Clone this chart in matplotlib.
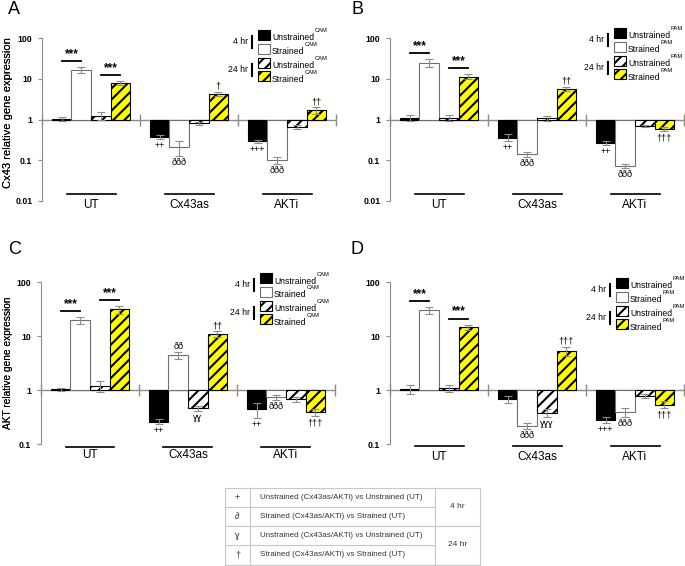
"""Cx43 / AKT relative gene expression under strain (four panels + key table)."""

import matplotlib
matplotlib.use("Agg")
import matplotlib.pyplot as plt
from matplotlib.patches import Rectangle
from matplotlib.transforms import offset_copy

plt.rcParams["font.family"] = ["Liberation Sans", "DejaVu Sans"]
plt.rcParams["hatch.linewidth"] = 1.5

W, H = 685, 566

groups = ["UT", "Cx43as", "AKTi"]
series = ["Unstrained", "Strained", "Unstrained", "Strained"]

# panel A: Cx43, CAM  (rows = groups, cols = series)
a_vals = [[1.02, 16.8, 1.25, 8.0], [0.38, 0.21, 0.80, 4.3], [0.29, 0.10, 0.66, 1.7]]
a_errs = [[0.10, 3.0, 0.30, 0.8], [0.04, 0.08, 0.08, 0.5], [0.03, 0.018, 0.07, 0.3]]
a_marks = [(1, 0, "++"), (1, 1, "ððð"), (1, 3, "†"), (2, 0, "+++"), (2, 1, "ððð"), (2, 3, "††")]

# panel B: Cx43, PAM
b_vals = [[1.1, 24.9, 1.1, 11.3], [0.36, 0.14, 1.07, 5.6], [0.27, 0.072, 0.69, 0.59]]
b_errs = [[0.2, 6.0, 0.2, 1.6], [0.07, 0.02, 0.15, 0.7], [0.03, 0.008, 0.04, 0.08]]
b_marks = [(1, 0, "++"), (1, 1, "ððð"), (1, 3, "††"), (2, 0, "++"), (2, 1, "ððð"), (2, 3, "†††")]

# panel C: AKT, CAM
c_vals = [[1.03, 19.7, 1.2, 31.0], [0.26, 4.4, 0.46, 10.8], [0.44, 0.74, 0.67, 0.39]]
c_errs = [[0.08, 2.7, 0.27, 5.0], [0.025, 0.7, 0.05, 1.4], [0.14, 0.08, 0.07, 0.06]]
c_marks = [(1, 0, "++"), (1, 1, "ðð"), (1, 2, "ɣɣ"), (1, 3, "††"),
           (2, 0, "++"), (2, 1, "ððð"), (2, 3, "†††")]

# panel D: AKT, PAM
d_vals = [[1.06, 30.0, 1.07, 14.6], [0.67, 0.22, 0.38, 5.3], [0.28, 0.386, 0.79, 0.535]]
d_errs = [[0.2, 4.8, 0.15, 1.7], [0.1, 0.03, 0.06, 1.0], [0.04, 0.07, 0.07, 0.08]]
d_marks = [(1, 1, "ððð"), (1, 2, "ɣɣɣ"), (1, 3, "†††"), (2, 0, "+++"), (2, 1, "ððð"), (2, 3, "†††")]

# key table
table_syms = ["+", "∂", "ɣ", "†"]
table_text = ["Unstrained (Cx43as/AKTi) vs Unstrained (UT)",
              "Strained (Cx43as/AKTi) vs Strained (UT)",
              "Unstrained (Cx43as/AKTi) vs Unstrained (UT)",
              "Strained (Cx43as/AKTi) vs Strained (UT)"]
table_times = ["4 hr", "24 hr"]

GRAY = "#8c8c8c"
BAR_STYLES = [
    dict(facecolor="black", edgecolor="black"),
    dict(facecolor="white", edgecolor="#707070"),
    dict(facecolor="white", edgecolor="black", hatch="///"),
    dict(facecolor="#ffff00", edgecolor="black", hatch="///"),
]
BW = 0.2

fig = plt.figure(figsize=(W / 100, H / 100), dpi=100)
ov = fig.add_axes([0, 0, 1, 1])
ov.set_xlim(0, W)
ov.set_ylim(H, 0)
ov.axis("off")
renderer = fig.canvas.get_renderer()


def add_panel(box, vals, errs, marks, ylab, ymin, ylab_size, ylab_y, line_y, lab_y):
    l, t, r, b = box
    ax = fig.add_axes([l / W, 1 - b / H, (r - l) / W, (b - t) / H])
    ax.set_yscale("log")
    ax.set_ylim(ymin, 100)
    ax.set_xlim(0, 3)
    for k in range(4):
        xs = [g + 0.2 + BW * k for g in range(3)]
        v = [vals[g][k] for g in range(3)]
        e = [errs[g][k] for g in range(3)]
        ax.bar(xs, [x - 1 for x in v], bottom=1, width=BW, linewidth=0.8,
               zorder=2, **BAR_STYLES[k])
        ax.errorbar(xs, v, yerr=e, fmt="none", ecolor=GRAY, elinewidth=0.8,
                    capsize=3, capthick=0.8, zorder=3)
    # baseline at 1 and group separators
    ax.axhline(1, color=GRAY, lw=1, zorder=1)
    ax.plot(range(4), [1] * 4, ls="none", marker="|", ms=9, mew=1,
            color=GRAY, clip_on=False, zorder=1)

    # significance marks
    for g, k, txt in marks:
        v, e = vals[g][k], errs[g][k]
        if v > 1:
            ax.annotate(txt, (g + 0.2 + BW * k, v + e), xytext=(0, 1),
                        textcoords="offset pixels", ha="center", va="bottom",
                        fontsize=6.5)
        else:
            ax.annotate(txt, (g + 0.2 + BW * k, v - e), xytext=(0, -2),
                        textcoords="offset pixels", ha="center", va="top",
                        fontsize=6.5)
    # UT brackets
    for k0 in (0, 2):
        top = max(vals[0][k0] + errs[0][k0], vals[0][k0 + 1] + errs[0][k0 + 1])
        x0, x1 = 0.2 + BW * k0, 0.2 + BW * (k0 + 1)
        ax.plot([x0, x1], [top, top], color="black", lw=1.3,
                transform=offset_copy(ax.transData, fig=fig, y=6, units="dots"))
        ax.annotate("***", ((x0 + x1) / 2, top), xytext=(0, 7),
                    textcoords="offset pixels", ha="center", va="bottom",
                    fontsize=8.5, fontweight="bold")

    # group underlines + labels
    tr = ax.get_xaxis_transform()
    for g, name in enumerate(groups):
        ax.plot([g + 0.25, g + 0.75], [line_y, line_y], color="black", lw=1.2,
                transform=tr, clip_on=False)
        ax.text(g + 0.5, lab_y, name, transform=tr, ha="center", va="center",
                fontsize=8.5)

    ax.set_xticks([])
    ticks = [10.0 ** p for p in range(-2, 3) if 10.0 ** p >= ymin - 1e-9]
    ax.set_yticks(ticks)
    ax.set_yticklabels([f"{tk:g}" for tk in ticks], fontsize=6.3, fontweight="bold")
    ax.minorticks_off()
    ax.tick_params(axis="y", length=3, width=0.8, color=GRAY, pad=4)
    for s in ("top", "right", "bottom"):
        ax.spines[s].set_visible(False)
    ax.spines["left"].set_color(GRAY)
    ax.set_ylabel(ylab, fontsize=ylab_size, va="center")
    ax.yaxis.set_label_coords(-(l - 8) / (r - l), ylab_y)
    ax.patch.set_alpha(0)
    return ax


def add_legend(bx, by, sup):
    step = 13.8
    for k in range(4):
        yc = by + step * k
        ov.add_patch(Rectangle((bx, yc - 5), 12, 10, linewidth=0.8, zorder=5,
                               **BAR_STYLES[k]))
        t = ov.text(bx + 14, yc + 3, series[k], fontsize=6.2, va="center", ha="left")
        x1 = t.get_window_extent(renderer).x1
        ov.text(x1 + 0.5, yc - 4, sup, fontsize=4.2, va="center", ha="left")
    for j, tm in enumerate(("4 hr", "24 hr")):
        yc = by + step * (2 * j) + step / 2
        ov.plot([bx - 6, bx - 6], [yc - 6, yc + 6], color="black", lw=1.5)
        ov.text(bx - 10, yc, tm, fontsize=6.2, ha="right", va="center")


add_panel((42, 38, 336, 201), a_vals, a_errs, a_marks,
          "Cx43 relative gene expression", 0.01, 8, 0.54, 0.043, -0.025)
add_panel((390, 38, 684, 201), b_vals, b_errs, b_marks,
          "Cx43 relative gene expression", 0.01, 8, 0.54, 0.043, -0.025)
add_panel((41, 282, 335, 444), c_vals, c_errs, c_marks,
          "AKT relative gene expression", 0.1, 7.3, 0.5, -0.018, -0.068)
add_panel((390, 282, 684, 444), d_vals, d_errs, d_marks,
          "AKT relative gene expression", 0.1, 7.3, 0.5, -0.012, -0.08)

add_legend(258, 35, "CAM")
add_legend(614, 33, "PAM")
add_legend(260, 278, "CAM")
add_legend(616, 283, "PAM")

for letter, x, y in (("A", 13.5, 9), ("B", 357.5, 9), ("C", 15, 250), ("D", 357.5, 250)):
    ov.text(x, y, letter, fontsize=13, ha="center", va="center")

# key table
tl, tc1, tc2, tr_ = 225, 250, 435, 480
rows = [488, 507, 526, 545, 565]
lc = dict(color="#c8c8c8", lw=0.8)
ov.plot([tl, tr_, tr_, tl, tl], [rows[0], rows[0], rows[-1], rows[-1], rows[0]], **lc)
for xc in (tc1, tc2):
    ov.plot([xc, xc], [rows[0], rows[-1]], **lc)
ov.plot([tl, tr_], [rows[2], rows[2]], **lc)
for ry in (rows[1], rows[3]):
    ov.plot([tl, tc2], [ry, ry], **lc)
for i in range(4):
    yc = (rows[i] + rows[i + 1]) / 2
    ov.text((tl + tc1) / 2, yc, table_syms[i], fontsize=6.5, ha="center",
            va="center", color="#333333")
    ov.text(tc1 + 10, yc, table_text[i], fontsize=5.8, ha="left", va="center",
            color="#333333")
for j, tm in enumerate(table_times):
    ov.text((tc2 + tr_) / 2, rows[2 * j + 1], tm, fontsize=6, ha="center",
            va="center", color="#333333")

fig.savefig("out.png", dpi=100)
